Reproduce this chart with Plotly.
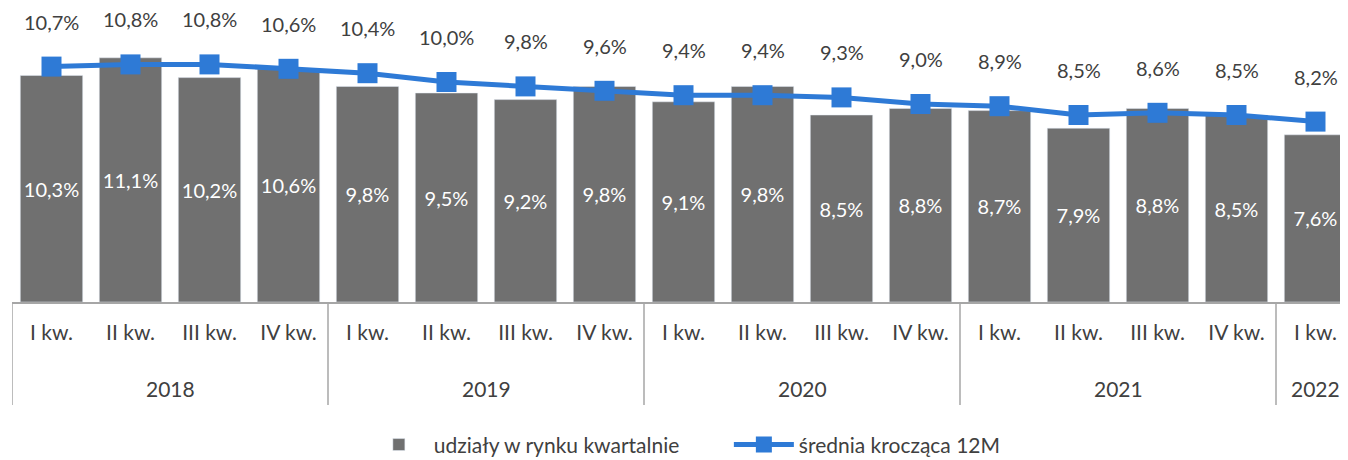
import plotly.graph_objects as go

years = ["2018"] * 4 + ["2019"] * 4 + ["2020"] * 4 + ["2021"] * 4 + ["2022"]
quarters = ["I kw.", "II kw.", "III kw.", "IV kw."] * 4 + ["I kw."]

quarterly = [10.3, 11.1, 10.2, 10.6, 9.8, 9.5, 9.2, 9.8, 9.1, 9.8, 8.5, 8.8, 8.7, 7.9, 8.8, 8.5, 7.6]
moving_avg = [10.7, 10.8, 10.8, 10.6, 10.4, 10.0, 9.8, 9.6, 9.4, 9.4, 9.3, 9.0, 8.9, 8.5, 8.6, 8.5, 8.2]

pos = list(range(len(quarters)))
font = "Lato, Open Sans, sans-serif"
grey_txt = "#404040"
axis_col = "#A6A6A6"

fig = go.Figure()
fig.add_trace(go.Bar(
    x=pos, y=quarterly,
    name="udziały w rynku kwartalnie",
    marker_color="#707070",
    texttemplate="%{y:.1f}%",
    textposition="inside",
    insidetextanchor="middle",
    textangle=0,
    textfont=dict(color="white", size=20, family=font),
))
fig.add_trace(go.Scatter(
    x=pos, y=moving_avg,
    name="średnia krocząca 12M",
    mode="lines+markers",
    line=dict(color="#2E7AD6", width=5),
    marker=dict(symbol="square", size=20, color="#2E7AD6"),
))

# labels above the moving average points
for p, v in zip(pos, moving_avg):
    fig.add_annotation(
        x=p, y=v, text=f"{v:.1f}%".replace(".", ","),
        showarrow=False, yshift=45,
        font=dict(color=grey_txt, size=20, family=font),
    )

# year groups: labels and divider lines
groups = []
for i, yr in enumerate(years):
    if not groups or groups[-1][0] != yr:
        groups.append([yr, i, i])
    else:
        groups[-1][2] = i
for yr, a, b in groups:
    fig.add_annotation(
        x=(a + b) / 2, y=0, yref="paper", yshift=-86, yanchor="middle",
        text=yr, showarrow=False,
        font=dict(color=grey_txt, size=21, family=font),
    )
    fig.add_shape(type="line", xref="x", yref="paper", x0=a - 0.5, x1=a - 0.5,
                  y0=0, y1=-0.35, line=dict(color=axis_col, width=1.5))

fig.update_layout(
    width=1348, height=460,
    margin=dict(l=4, r=1, t=0, b=166),
    plot_bgcolor="white", paper_bgcolor="white",
    bargap=0.21,
    separators=",.",
    font=dict(family=font, color=grey_txt, size=20),
    showlegend=True,
    legend=dict(orientation="h", x=0.262, xanchor="left", y=-0.486, yanchor="middle",
                font=dict(size=21, color=grey_txt), itemwidth=60, entrywidth=290),
)
fig.update_xaxes(
    range=[-0.5, 16.5], tickvals=pos, ticktext=quarters,
    showline=True, linecolor=axis_col, linewidth=1.5,
    showgrid=False, zeroline=False, ticks="", ticklabelstandoff=11,
    tickfont=dict(size=21, color=grey_txt, family=font),
)
fig.update_yaxes(range=[0, 294 / 22], visible=False, showgrid=False)

fig.write_html("out.html")
